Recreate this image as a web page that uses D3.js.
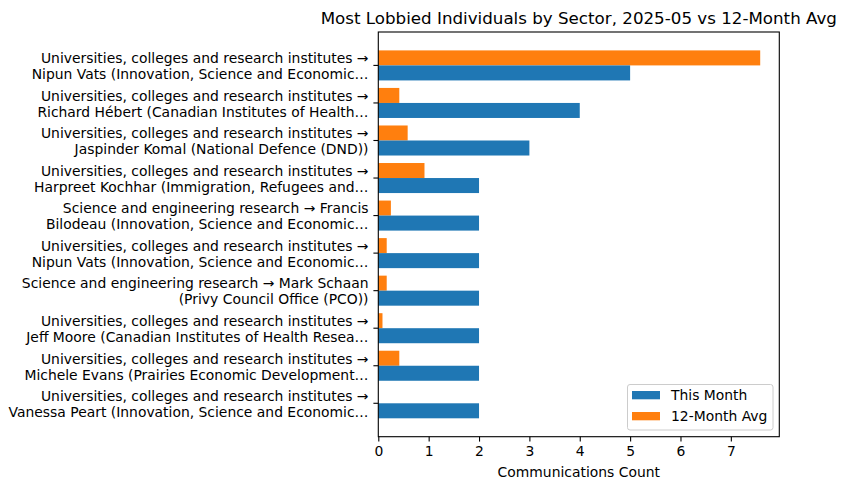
<!DOCTYPE html>
<html>
<head>
<meta charset="utf-8">
<script src="https://cdn.jsdelivr.net/npm/d3@7"></script>
<style>
  html, body { margin: 0; padding: 0; background: #fff; }
  text { font-family: "DejaVu Sans", sans-serif; fill: #000; }
</style>
</head>
<body>
<svg id="chart" width="845" height="490"></svg>
<script>
const categories = [
  ["Universities, colleges and research institutes \u2192", "Nipun Vats (Innovation, Science and Economic\u2026"],
  ["Universities, colleges and research institutes \u2192", "Richard H\u00e9bert (Canadian Institutes of Health\u2026"],
  ["Universities, colleges and research institutes \u2192", "Jaspinder Komal (National Defence (DND))"],
  ["Universities, colleges and research institutes \u2192", "Harpreet Kochhar (Immigration, Refugees and\u2026"],
  ["Science and engineering research \u2192 Francis", "Bilodeau (Innovation, Science and Economic\u2026"],
  ["Universities, colleges and research institutes \u2192", "Nipun Vats (Innovation, Science and Economic\u2026"],
  ["Science and engineering research \u2192 Mark Schaan", "(Privy Council Office (PCO))"],
  ["Universities, colleges and research institutes \u2192", "Jeff Moore (Canadian Institutes of Health Resea\u2026"],
  ["Universities, colleges and research institutes \u2192", "Michele Evans (Prairies Economic Development\u2026"],
  ["Universities, colleges and research institutes \u2192", "Vanessa Peart (Innovation, Science and Economic\u2026"]
];
const thisMonth = [5, 4, 3, 2, 2, 2, 2, 2, 2, 2];
const avg12 = [7.583, 0.417, 0.583, 0.917, 0.25, 0.167, 0.167, 0.083, 0.417, 0];
const xTicks = [0, 1, 2, 3, 4, 5, 6, 7];
const seriesNames = ["This Month", "12-Month Avg"];
const colors = ["#1f77b4", "#ff7f0e"];
const titleText = "Most Lobbied Individuals by Sector, 2025-05 vs 12-Month Avg";
const xLabel = "Communications Count";

const svg = d3.select("#chart");
const L = 378.3, R = 779.3, T = 32, B = 436.7;
const fs = 13.9;
const barH = 0.4;

const xmax = d3.max(avg12.concat(thisMonth)) * 1.05;
const x = d3.scaleLinear().domain([0, xmax]).range([L, R]);
const n = categories.length;
const y = d3.scaleLinear().domain([-0.4 - 0.049 * (n - 0.2) * 10 / 10, n - 1 + 0.4 + 0.049 * (n - 0.2) * 10 / 10]).range([T, B]);
// margins: 5% of data span (n-1+0.8)
const span = (n - 1) + 0.8;
y.domain([-0.4 - 0.05 * span, n - 1 + 0.4 + 0.05 * span]);

const g = svg.append("g");

// bars: orange above tick (i - barH .. i), blue below (i .. i + barH)
g.selectAll("rect.avg").data(avg12).join("rect")
  .attr("class", "avg")
  .attr("x", x(0))
  .attr("y", (d, i) => y(i - barH))
  .attr("width", d => x(d) - x(0))
  .attr("height", y(barH) - y(0))
  .attr("fill", colors[1]);

g.selectAll("rect.cur").data(thisMonth).join("rect")
  .attr("class", "cur")
  .attr("x", x(0))
  .attr("y", (d, i) => y(i))
  .attr("width", d => x(d) - x(0))
  .attr("height", y(barH) - y(0))
  .attr("fill", colors[0]);

// spines
const sw = 1.1;
svg.append("rect").attr("x", L).attr("y", T).attr("width", R - L).attr("height", B - T)
  .attr("fill", "none").attr("stroke", "#000").attr("stroke-width", sw);

// x axis
const xAxis = d3.axisBottom(x).tickValues(xTicks).tickSize(4.9).tickPadding(4.9).tickFormat(d3.format("d"));
const xa = svg.append("g").attr("transform", `translate(0,${B})`).call(xAxis);
xa.select(".domain").remove();
xa.selectAll(".tick line").attr("stroke", "#000").attr("stroke-width", sw);
xa.selectAll(".tick text").attr("font-family", "DejaVu Sans").attr("font-size", fs).attr("fill", "#000");

// y axis ticks & labels
const ya = svg.append("g");
categories.forEach((lines, i) => {
  const yy = y(i);
  ya.append("line").attr("x1", L - 4.9).attr("x2", L).attr("y1", yy).attr("y2", yy)
    .attr("stroke", "#000").attr("stroke-width", sw);
  const t = ya.append("text").attr("text-anchor", "end").attr("font-size", fs);
  lines.forEach((ln, k) => {
    t.append("tspan").attr("x", 368.5).attr("y", yy - 2.2 + k * 16).text(ln);
  });
});

// title
svg.append("text").attr("x", (L + R) / 2).attr("y", 24).attr("text-anchor", "middle")
  .attr("font-size", 16.7).text(titleText);

// x label
svg.append("text").attr("x", (L + R) / 2).attr("y", 477).attr("text-anchor", "middle")
  .attr("font-size", fs).text(xLabel);

// legend
const lg = svg.append("g");
lg.append("rect").attr("x", 627.5).attr("y", 384.5).attr("width", 145.5).attr("height", 45.5)
  .attr("rx", 2.5).attr("fill", "#fff").attr("fill-opacity", 0.8).attr("stroke", "#cccccc").attr("stroke-width", 1);
seriesNames.forEach((name, k) => {
  const yy = 391 + k * 21;
  lg.append("rect").attr("x", 632).attr("y", yy).attr("width", 28).attr("height", 8.3).attr("fill", colors[k]);
  lg.append("text").attr("x", 671).attr("y", yy + 9).attr("font-size", fs).text(name);
});
</script>
</body>
</html>
